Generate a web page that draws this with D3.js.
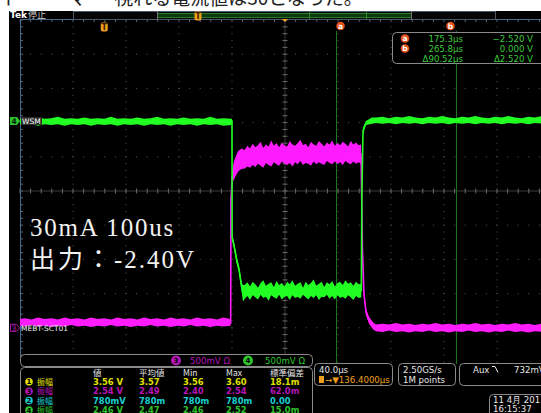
<!DOCTYPE html>
<html><head><meta charset="utf-8">
<script src="https://cdn.jsdelivr.net/npm/d3@7"></script>
<style>html,body{margin:0;padding:0;background:#fff}svg{display:block}</style>
</head><body>
<script>
// ---------- acquisition settings ----------
const timeRange = [-63.6, 336.4];          // µs across the 10 horizontal divisions
const timePerDiv = 40;                      // µs/div
const voltsPerDiv = 0.5;                    // V/div (both channels)
const ch3Offset = -4.0;                     // ground position, divisions
const ch4Offset = 2.05;
const triggerTime = 0;
const cursorTimes = [175.3, 265.8];
const cursorVolts = [-2.520, 0.000];
const cursorRowsT = ["175.3µs", "265.8µs", "Δ90.52µs"];
const cursorRowsV = ["−2.520 V", "0.000 V", "Δ2.520 V"];

// ---------- channel 4 (WSM): [time µs, min V, max V] ----------
const ch4Before = [
  [-63.6,-0.05,0.03],[-60,-0.06,0.04],[-55,-0.05,0.03],[-50,-0.07,0.05],[-45,-0.05,0.03],
  [-40,-0.06,0.04],[-35,-0.05,0.06],[-30,-0.07,0.03],[-25,-0.05,0.04],[-20,-0.06,0.03],
  [-15,-0.05,0.05],[-10,-0.07,0.03],[-5,-0.05,0.04],[0,-0.06,0.03],[5,-0.05,0.06],
  [10,-0.07,0.03],[15,-0.05,0.04],[20,-0.06,0.03],[25,-0.05,0.05],[30,-0.07,0.03],
  [35,-0.05,0.04],[40,-0.06,0.06],[45,-0.05,0.03],[50,-0.07,0.04],[55,-0.05,0.03],
  [60,-0.06,0.05],[65,-0.05,0.03],[70,-0.07,0.04],[75,-0.05,0.03],[80,-0.06,0.06],
  [85,-0.05,0.03],[90,-0.07,0.04],[96,-0.06,0.03]
];
const ch4Fall = [
  [96.4,-0.05,0.03],[96.5,-1.74,-1.66],[98.2,-1.90,-1.80],[99.9,-2.08,-1.98],
  [101.7,-2.22,-2.12],[103.7,-2.50,-2.36],[104.7,-2.64,-2.40]
];
const ch4Low = [
  [106,-2.60,-2.40],[108,-2.56,-2.36],[110,-2.62,-2.42],[112,-2.55,-2.35],[114,-2.58,-2.39],
  [116,-2.61,-2.44],[118,-2.54,-2.37],[120,-2.59,-2.33],[122,-2.57,-2.41],[124,-2.63,-2.38],
  [126,-2.55,-2.36],[128,-2.58,-2.43],[130,-2.60,-2.34],[132,-2.54,-2.40],[134,-2.61,-2.37],
  [136,-2.57,-2.42],[138,-2.56,-2.35],[140,-2.62,-2.39],[142,-2.55,-2.33],[144,-2.59,-2.41],
  [146,-2.57,-2.38],[148,-2.60,-2.36],[150,-2.54,-2.44],[152,-2.58,-2.35],[154,-2.61,-2.40],
  [156,-2.56,-2.37],[158,-2.59,-2.32],[160,-2.55,-2.41],[162,-2.62,-2.38],[164,-2.57,-2.35],
  [166,-2.58,-2.43],[168,-2.54,-2.36],[170,-2.60,-2.39],[172,-2.56,-2.34],[174,-2.61,-2.42],
  [176,-2.55,-2.37],[178,-2.59,-2.35],[180,-2.57,-2.40],[182,-2.60,-2.33],[184,-2.55,-2.38],
  [186,-2.58,-2.36],[188,-2.62,-2.41],[190,-2.56,-2.35],[192,-2.59,-2.39]
];
const ch4Rise = [
  [194.0,-2.58,-2.38],[194.4,-1.20,-1.00],[195.3,-0.18,-0.10],[197.5,-0.06,0.00],[202,-0.04,0.05]
];
const ch4After = [
  [205,-0.03,0.05],[210,-0.04,0.06],[215,-0.03,0.04],[220,-0.05,0.06],[225,-0.03,0.05],
  [230,-0.04,0.07],[235,-0.03,0.05],[240,-0.05,0.04],[245,-0.03,0.06],[250,-0.04,0.05],
  [255,-0.03,0.07],[260,-0.05,0.05],[265,-0.03,0.04],[270,-0.04,0.06],[275,-0.03,0.05],
  [280,-0.05,0.07],[285,-0.03,0.05],[290,-0.04,0.04],[295,-0.03,0.06],[300,-0.05,0.05],
  [305,-0.03,0.07],[310,-0.04,0.05],[315,-0.03,0.04],[320,-0.05,0.06],[325,-0.03,0.05],
  [330,-0.04,0.07],[336.4,-0.03,0.05]
];

// ---------- channel 3 (MEBT-SCT01): [time µs, min V, max V] ----------
const ch3Before = [
  [-63.6,0.03,0.13],[-60,0.02,0.14],[-55,0.04,0.12],[-50,0.02,0.15],[-45,0.03,0.13],
  [-40,0.01,0.14],[-35,0.03,0.12],[-30,0.02,0.15],[-25,0.04,0.13],[-20,0.02,0.14],
  [-15,0.03,0.12],[-10,0.01,0.15],[-5,0.03,0.13],[0,0.02,0.14],[5,0.04,0.12],
  [10,0.02,0.15],[15,0.03,0.13],[20,0.01,0.14],[25,0.03,0.12],[30,0.02,0.15],
  [35,0.04,0.13],[40,0.02,0.14],[45,0.03,0.12],[50,0.01,0.15],[55,0.03,0.13],
  [60,0.02,0.14],[65,0.04,0.12],[70,0.02,0.15],[75,0.03,0.13],[80,0.01,0.14],
  [85,0.03,0.12],[90,0.02,0.15],[95,0.03,0.13]
];
const ch3Rise = [
  [95.4,0.03,0.12],[95.6,1.80,1.92],[96.6,2.12,2.30],[97.9,2.17,2.44],
  [100.9,2.28,2.58],[103.5,2.32,2.62]
];
const ch3High = [
  [106,2.33,2.60],[108,2.36,2.66],[110,2.34,2.62],[112,2.38,2.69],[114,2.35,2.64],
  [116,2.40,2.67],[118,2.37,2.72],[120,2.34,2.63],[122,2.41,2.68],[124,2.38,2.65],
  [126,2.36,2.74],[128,2.42,2.66],[130,2.39,2.70],[132,2.37,2.64],[134,2.43,2.71],
  [136,2.40,2.67],[138,2.38,2.65],[140,2.41,2.73],[142,2.36,2.68],[144,2.42,2.66],
  [146,2.39,2.70],[148,2.44,2.75],[150,2.38,2.67],[152,2.41,2.69],[154,2.40,2.64],
  [156,2.37,2.72],[158,2.43,2.68],[160,2.39,2.66],[162,2.42,2.73],[164,2.40,2.69],
  [166,2.38,2.65],[168,2.44,2.71],[170,2.41,2.68],[172,2.39,2.74],[174,2.43,2.66],
  [176,2.40,2.70],[178,2.42,2.67],[180,2.38,2.72],[182,2.44,2.69],[184,2.41,2.65],
  [186,2.39,2.73],[188,2.43,2.68],[190,2.40,2.71],[192,2.42,2.67]
];
const ch3Fall = [
  [193.8,2.40,2.68],[194.8,1.10,1.24],[196.0,0.44,0.54],[197.6,0.18,0.28],
  [199.8,0.06,0.16],[202.8,-0.02,0.08]
];
const ch3After = [
  [205,-0.05,0.05],[210,-0.06,0.06],[215,-0.04,0.05],[220,-0.06,0.07],[225,-0.05,0.05],
  [230,-0.07,0.06],[235,-0.05,0.04],[240,-0.06,0.06],[245,-0.04,0.05],[250,-0.06,0.07],
  [255,-0.05,0.05],[260,-0.07,0.06],[265,-0.05,0.04],[270,-0.06,0.06],[275,-0.04,0.05],
  [280,-0.06,0.07],[285,-0.05,0.05],[290,-0.07,0.06],[295,-0.05,0.04],[300,-0.06,0.06],
  [305,-0.04,0.05],[310,-0.06,0.07],[315,-0.05,0.05],[320,-0.07,0.06],[325,-0.05,0.04],
  [330,-0.06,0.06],[336.4,-0.05,0.05]
];

// ---------- measurement table ----------
const measHeaders = ["値", "平均値", "Min", "Max", "標準偏差"];
const measChannels = ["1", "3", "2", "4"];
const measName = "振幅";
const measValue = ["3.56 V", "2.54 V", "780mV", "2.46 V"];
const measMean = ["3.57", "2.49", "780m", "2.47"];
const measMin = ["3.56", "2.40", "780m", "2.46"];
const measMax = ["3.60", "2.54", "780m", "2.52"];
const measStd = ["18.1m", "62.0m", "0.00", "15.0m"];

const chColor = {"1": "#e2e000", "2": "#18cfcf", "3": "#b514b5", "4": "#2ec42e"};
const traceColor = {"3": "#ff1cff", "4": "#22ff22"};

// ---------- layout ----------
const W = 541, H = 413;
const svg = d3.select("body").append("svg").attr("width", W).attr("height", H)
  .style("font-family", "'DejaVu Sans', sans-serif");

svg.append("rect").attr("width", W).attr("height", H).attr("fill", "#fff");
// caption fragment running off the top of the page
svg.append("text").attr("x", -2).attr("y", 5)
  .attr("font-family", "'Noto Sans CJK JP'").attr("font-size", 19).attr("fill", "#222")
  .text("イ ー ー マ 　 視れる電流値は30となった。");

svg.append("rect").attr("x", 9).attr("y", 11).attr("width", W - 9).attr("height", H - 11).attr("fill", "#000");

const x = d3.scaleLinear().domain(timeRange).range([20, 550]);
const yDiv = d3.scaleLinear().domain([-5, 5]).range([362, 20]);
const yCh = off => v => yDiv(off + v / voltsPerDiv);
const y3 = yCh(ch3Offset), y4 = yCh(ch4Offset);

// ---------- graticule ----------
const grid = svg.append("g");
const majorT = d3.range(11).map(k => timeRange[0] + k * timePerDiv);
const minorT = d3.range(51).map(k => timeRange[0] + k * timePerDiv / 5);
const majorV = d3.range(-5, 6);
const minorV = d3.range(-25, 26).map(k => k / 5);

majorV.forEach(j => {
  if (j === 0 || j === 5 || j === -5) return;
  grid.selectAll(null).data(minorT).enter().append("rect")
    .attr("x", d => x(d) - 0.5).attr("y", yDiv(j) - 0.5).attr("width", 1).attr("height", 1)
    .attr("fill", "#5a5a5a");
});
majorT.forEach((t, k) => {
  if (k === 0 || k === 5) return;
  grid.selectAll(null).data(minorV.filter(v => v < 5)).enter().append("rect")
    .attr("x", x(t) - 0.5).attr("y", d => yDiv(d) - 0.5).attr("width", 1).attr("height", 1)
    .attr("fill", "#5a5a5a");
});
// centre crosshair with minor ticks
grid.append("line").attr("x1", 20).attr("x2", W).attr("y1", yDiv(0)).attr("y2", yDiv(0))
  .attr("stroke", "#3a3a3a").attr("stroke-width", 1);
grid.append("line").attr("x1", x(majorT[5])).attr("x2", x(majorT[5])).attr("y1", 20).attr("y2", 362)
  .attr("stroke", "#3a3a3a").attr("stroke-width", 1);
grid.selectAll(null).data(minorT).enter().append("line")
  .attr("x1", d => x(d)).attr("x2", d => x(d)).attr("y1", yDiv(0) - 2.5).attr("y2", yDiv(0) + 2.5)
  .attr("stroke", "#6a6a6a");
grid.selectAll(null).data(minorV).enter().append("line")
  .attr("y1", d => yDiv(d)).attr("y2", d => yDiv(d)).attr("x1", x(majorT[5]) - 2.5).attr("x2", x(majorT[5]) + 2.5)
  .attr("stroke", "#6a6a6a");
// frame edges with ticks
grid.append("line").attr("x1", 20.5).attr("x2", 20.5).attr("y1", 19).attr("y2", 362).attr("stroke", "#456a8c");
grid.append("line").attr("x1", 20).attr("x2", W).attr("y1", 19.5).attr("y2", 19.5).attr("stroke", "#456a8c");
grid.selectAll(null).data(minorV).enter().append("line")
  .attr("y1", d => yDiv(d)).attr("y2", d => yDiv(d)).attr("x1", 21).attr("x2", 23)
  .attr("stroke", "#5a6a7a");
grid.selectAll(null).data(minorT).enter().append("line")
  .attr("x1", d => x(d)).attr("x2", d => x(d)).attr("y1", 20).attr("y2", 22)
  .attr("stroke", "#5a6a7a");

// ---------- cursors ----------
const cur = svg.append("g");
cursorTimes.forEach((t, i) => {
  cur.append("line").attr("x1", x(t)).attr("x2", x(t)).attr("y1", 31).attr("y2", 364)
    .attr("stroke", "#1c7a1c").attr("stroke-width", 1);
  const cy = y4(cursorVolts[i]);
  cur.append("line").attr("x1", x(t) - 6).attr("x2", x(t) + 6).attr("y1", cy).attr("y2", cy)
    .attr("stroke", "#1c7a1c");
});

// ---------- traces ----------
function drawTrace(rows, yFn, color) {
  const g = svg.append("g");
  g.append("path").datum(rows)
    .attr("d", d3.area().x(d => x(d[0])).y0(d => yFn(d[1])).y1(d => yFn(d[2])))
    .attr("fill", color);
  g.append("path").datum(rows)
    .attr("d", d3.line().x(d => x(d[0])).y(d => yFn((d[1] + d[2]) / 2)))
    .attr("fill", "none").attr("stroke", color).attr("stroke-width", 1.6);
}
drawTrace([...ch3Before, ...ch3Rise, ...ch3High, ...ch3Fall, ...ch3After], y3, traceColor["3"]);
drawTrace([...ch4Before, ...ch4Fall, ...ch4Low, ...ch4Rise, ...ch4After], y4, traceColor["4"]);

// ---------- annotation ----------
const note = svg.append("g").attr("fill", "#f2f2f2")
  .attr("font-family", "'Liberation Serif', 'Noto Sans CJK JP', serif")
  .attr("font-size", 25);
note.append("text").attr("x", 30).attr("y", 236).attr("letter-spacing", 1.8).text("30mA 100us");
const line2 = note.append("text").attr("x", 30).attr("y", 268);
line2.append("tspan").attr("letter-spacing", 3).text("出力：");
line2.append("tspan").attr("letter-spacing", 2).text("-2.40V");

// ---------- status bar ----------
const bar = svg.append("g").attr("font-size", 9);
bar.append("text").attr("x", 10).attr("y", 18).attr("fill", "#fff").attr("font-weight", "bold").text("Tek");
bar.append("text").attr("x", 28).attr("y", 18).attr("fill", "#cfcfcf")
  .attr("font-family", "'Noto Sans CJK JP'").text("停止");
bar.append("rect").attr("x", 73.5).attr("y", 11.5).attr("width", 422).attr("height", 8)
  .attr("fill", "#050505").attr("stroke", "#4a5a6a");
bar.append("rect").attr("x", 158).attr("y", 13).attr("width", 253).attr("height", 5).attr("fill", "#0c3a0c");
bar.append("line").attr("x1", 158).attr("x2", 411).attr("y1", 13.5).attr("y2", 13.5).attr("stroke", "#2a7a2a");
bar.append("line").attr("x1", 158).attr("x2", 411).attr("y1", 17.5).attr("y2", 17.5).attr("stroke", "#2a7a2a");
bar.append("line").attr("x1", 157.5).attr("x2", 157.5).attr("y1", 11).attr("y2", 20).attr("stroke", "#777");
bar.append("line").attr("x1", 411.5).attr("x2", 411.5).attr("y1", 11).attr("y2", 20).attr("stroke", "#777");
[309, 366].forEach(px => bar.append("line").attr("x1", px + 0.5).attr("x2", px + 0.5).attr("y1", 12).attr("y2", 19)
  .attr("stroke", "#2a8a2a"));

function triggerMark(cx, cy) {
  bar.append("rect").attr("x", cx - 3.5).attr("y", cy - 4.5).attr("width", 7).attr("height", 9).attr("rx", 2)
    .attr("fill", "#f0a020");
  bar.append("text").attr("x", cx).attr("y", cy + 3).attr("text-anchor", "middle").attr("font-size", 8)
    .attr("font-weight", "bold").attr("fill", "#3a2000").text("T");
}
triggerMark(198, 16);
triggerMark(x(triggerTime), 27);
bar.append("path").attr("d", `M${x(majorT[5]) - 3},19 L${x(majorT[5]) + 3},19 L${x(majorT[5])},22 Z`).attr("fill", "#f0a020");

function cursorBadge(g, cx, cy, letter) {
  g.append("circle").attr("cx", cx).attr("cy", cy).attr("r", 4.3).attr("fill", "#e8501c");
  g.append("text").attr("x", cx).attr("y", cy + 2.8).attr("text-anchor", "middle").attr("font-size", 7.5)
    .attr("font-weight", "bold").attr("fill", "#fff").text(letter);
}
cursorBadge(bar, x(cursorTimes[0]) + 4, 26, "a");
cursorBadge(bar, x(cursorTimes[1]) - 6, 26, "b");

// cursor readout
const cr = svg.append("g").attr("font-size", 8.6).attr("fill", "#3ccc3c");
cr.append("rect").attr("x", 392.5).attr("y", 32.5).attr("width", 160).attr("height", 31).attr("rx", 4)
  .attr("fill", "#000").attr("stroke", "#8a8a8a");
["a", "b"].forEach((l, i) => cursorBadge(cr, 405, 38.5 + i * 10, l));
cursorRowsT.forEach((s, i) => cr.append("text").attr("x", 463).attr("y", 41.5 + i * 10)
  .attr("text-anchor", "end").text(s));
cursorRowsV.forEach((s, i) => cr.append("text").attr("x", 533).attr("y", 41.5 + i * 10)
  .attr("text-anchor", "end").text(s));

// ---------- channel ground markers ----------
const mk = svg.append("g").attr("font-size", 7.5);
mk.append("path").attr("d", `M10,${y4(0) - 4} h7 l3,4 l-3,4 h-7 Z`).attr("fill", chColor["4"]);
mk.append("text").attr("x", 14).attr("y", y4(0) + 3).attr("text-anchor", "middle").attr("fill", "#002000")
  .attr("font-weight", "bold").text("4");
mk.append("rect").attr("x", 21).attr("y", y4(0) - 4).attr("width", 21).attr("height", 8).attr("fill", "#2a2a2a");
mk.append("text").attr("x", 22).attr("y", y4(0) + 3).attr("fill", "#fff").text("WSM");
mk.append("path").attr("d", `M10.5,${y3(0) - 3.5} h6 l3,3.5 l-3,3.5 h-6 Z`).attr("fill", "#000")
  .attr("stroke", chColor["3"]);
mk.append("text").attr("x", 14).attr("y", y3(0) + 3).attr("text-anchor", "middle").attr("fill", chColor["3"])
  .text("3");
mk.append("text").attr("x", 21).attr("y", y3(0) + 3.5).attr("fill", "#f4f4f4").text("MEBT-SCT01");

// ---------- lower readouts ----------
const rd = svg.append("g").attr("font-size", 8.6);
function box(x0, y0, w, h) {
  rd.append("rect").attr("x", x0 + 0.5).attr("y", y0 + 0.5).attr("width", w).attr("height", h).attr("rx", 4)
    .attr("fill", "#000").attr("stroke", "#8a8a8a");
}
function chipNum(cx, cy, n, r) {
  rd.append("circle").attr("cx", cx).attr("cy", cy).attr("r", r).attr("fill", chColor[n]);
  rd.append("text").attr("x", cx).attr("y", cy + 2.6).attr("text-anchor", "middle").attr("font-size", 7)
    .attr("font-weight", "bold").attr("fill", "#000").text(n);
}
box(20, 354, 292, 12);
chipNum(176, 360.5, "3", 5);
rd.append("text").attr("x", 190).attr("y", 364).attr("fill", chColor["3"]).text("500mV Ω");
chipNum(248, 360.5, "4", 5);
rd.append("text").attr("x", 265).attr("y", 364).attr("fill", chColor["4"]).text("500mV Ω");

box(20, 367, 292, 60);
const colX = [93, 139, 183, 226, 270];
measHeaders.forEach((h, i) => rd.append("text").attr("x", colX[i]).attr("y", 376).attr("fill", "#e4e4e4")
  .attr("font-family", "'Noto Sans CJK JP'").attr("font-size", 8.5).text(h));
const cols = [measValue, measMean, measMin, measMax, measStd];
measChannels.forEach((n, r) => {
  const by = 385 + r * 9.4;
  chipNum(29, by - 3.2, n, 3.8);
  rd.append("text").attr("x", 37).attr("y", by).attr("fill", chColor[n])
    .attr("font-family", "'Noto Sans CJK JP'").attr("font-size", 8).text(measName);
  cols.forEach((c, i) => rd.append("text").attr("x", colX[i]).attr("y", by).attr("fill", chColor[n])
    .attr("font-weight", "bold").attr("font-size", 8.4).text(c[r]));
});

box(314, 363, 78, 22);
rd.append("text").attr("x", 319).attr("y", 372.5).attr("fill", "#e8e8e8").text("40.0µs");
rd.append("rect").attr("x", 319).attr("y", 376).attr("width", 5).attr("height", 7).attr("fill", "#f0a020");
rd.append("text").attr("x", 325).attr("y", 382.5).attr("fill", "#f0a020").text("→▼136.4000µs");

box(398, 363, 57, 22);
rd.append("text").attr("x", 403).attr("y", 372.5).attr("fill", "#e8e8e8").text("2.50GS/s");
rd.append("text").attr("x", 403).attr("y", 382.5).attr("fill", "#e8e8e8").text("1M points");

box(459, 363, 95, 22);
rd.append("text").attr("x", 473).attr("y", 372.5).attr("fill", "#e8e8e8").text("Aux");
rd.append("path").attr("d", "M492,366.5 h3 l3,6").attr("fill", "none").attr("stroke", "#e8e8e8");
rd.append("text").attr("x", 514).attr("y", 372.5).attr("fill", "#e8e8e8").text("732mV");

box(489, 394, 60, 25);
rd.append("text").attr("x", 493).attr("y", 402.5).attr("fill", "#e8e8e8").text("11 4月  2017");
rd.append("text").attr("x", 493).attr("y", 411.5).attr("fill", "#e8e8e8").text("16:15:37");
</script>
</body></html>
